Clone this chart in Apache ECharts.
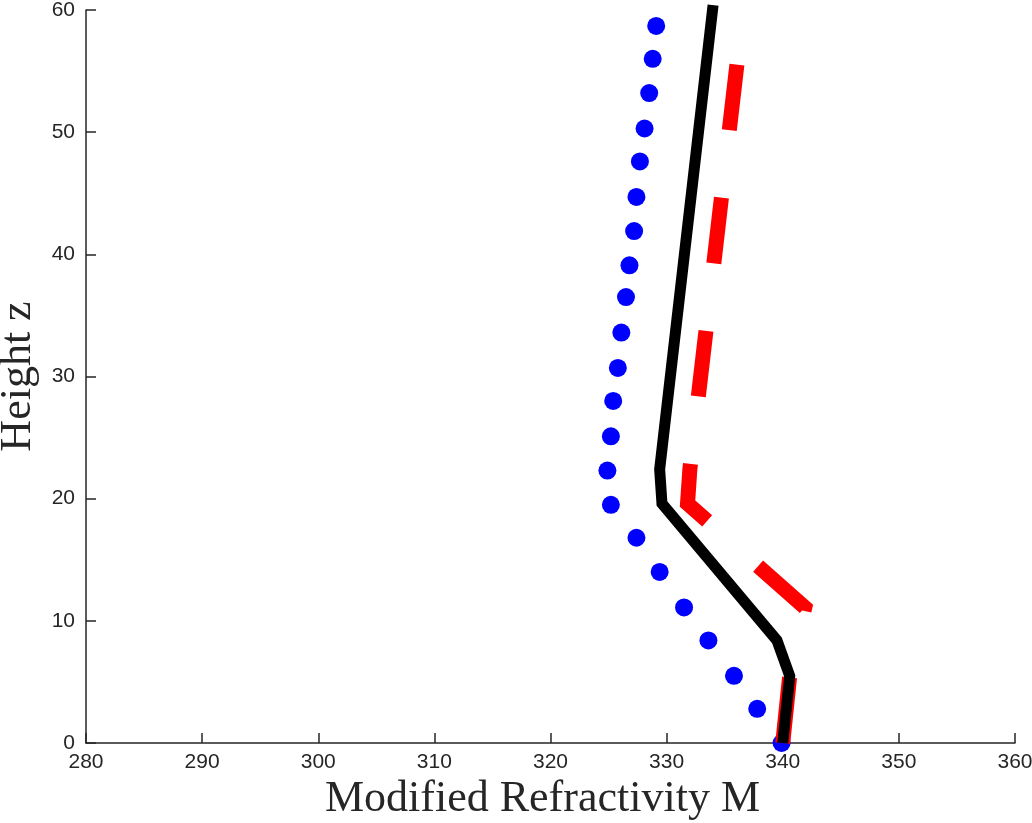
<!DOCTYPE html>
<html>
<head>
<meta charset="utf-8">
<script src="https://cdn.jsdelivr.net/npm/echarts@6/dist/echarts.min.js"></script>
<style>
  html, body { margin: 0; padding: 0; background: #fff; }
  #chart { width: 1032px; height: 823px; }
</style>
</head>
<body>
<div id="chart"></div>
<script>
// blue dotted profile
var blueZ = [0, 2.8, 5.5, 8.4, 11.1, 14.0, 16.8, 19.5, 22.3, 25.1, 28.0, 30.7, 33.6, 36.5, 39.1, 41.9, 44.7, 47.6, 50.3, 53.2, 56.0, 58.7];
var blueM = [339.9, 337.8, 335.8, 333.6, 331.5, 329.4, 327.4, 325.2, 324.9, 325.2, 325.4, 325.8, 326.1, 326.5, 326.8, 327.2, 327.4, 327.7, 328.1, 328.5, 328.8, 329.1];
// black solid profile
var blackZ = [0, 5.5, 8.4, 19.6, 22.4, 60.4];
var blackM = [340.0, 340.6, 339.5, 329.6, 329.4, 334.0];
// red dashed profile
var redZ = [0, 5.5, 11.1, 19.6, 22.4, 60];
var redM = [340.0, 340.6, 341.9, 331.8, 332.0, 336.6];

var xTicks = [280, 360, 10];
var yTicks = [0, 60, 10];

function pairs(m, z) {
    var arr = [];
    m.map(function (v, i) { arr.push([v, z[i]]); });
    return arr;
}

var axisColor = '#262626';
var option = {
    animation: false,
    grid: { left: 86, right: 17, top: 10, bottom: 80, containLabel: false, outerBoundsMode: 'none' },
    xAxis: {
        type: 'value',
        min: xTicks[0], max: xTicks[1], interval: xTicks[2],
        name: 'Modified Refractivity M',
        nameLocation: 'middle',
        nameGap: 31,
        nameTextStyle: { fontFamily: 'Liberation Serif', fontSize: 44, color: axisColor, padding: [0, 16, 0, 0] },
        axisLine: { lineStyle: { color: axisColor, width: 1.5 } },
        axisTick: { inside: true, length: 10, lineStyle: { color: axisColor, width: 1.5 } },
        axisLabel: { fontFamily: 'Liberation Sans', fontSize: 21, color: axisColor, margin: 9 },
        splitLine: { show: false }
    },
    yAxis: {
        type: 'value',
        min: yTicks[0], max: yTicks[1], interval: yTicks[2],
        name: 'Height z',
        nameLocation: 'middle',
        nameGap: 45,
        nameRotate: 90,
        nameTextStyle: { fontFamily: 'Liberation Serif', fontSize: 44, color: axisColor },
        axisLine: { lineStyle: { color: axisColor, width: 1.5 } },
        axisTick: { inside: true, length: 10, lineStyle: { color: axisColor, width: 1.5 } },
        axisLabel: { fontFamily: 'Liberation Sans', fontSize: 21, color: axisColor, margin: 11 },
        splitLine: { show: false }
    },
    series: [
        {
            type: 'scatter',
            data: pairs(blueM, blueZ),
            symbol: 'circle',
            symbolSize: 18,
            itemStyle: { color: '#0000ff', opacity: 1 },
            z: 1
        },
        {
            type: 'line',
            data: pairs(redM, redZ),
            showSymbol: false,
            symbol: 'none',
            clip: false,
            lineStyle: { color: '#ff0000', width: 15, type: [66, 68], cap: 'butt', join: 'miter' },
            z: 2
        },
        {
            type: 'line',
            data: pairs(blackM, blackZ),
            showSymbol: false,
            symbol: 'none',
            clip: false,
            lineStyle: { color: '#000000', width: 11, cap: 'butt', join: 'miter' },
            z: 3
        }
    ]
};

var chart = echarts.init(document.getElementById('chart'));
chart.setOption(option);
window.addEventListener('resize', function () {
    chart.resize();
});
</script>
</body>
</html>
